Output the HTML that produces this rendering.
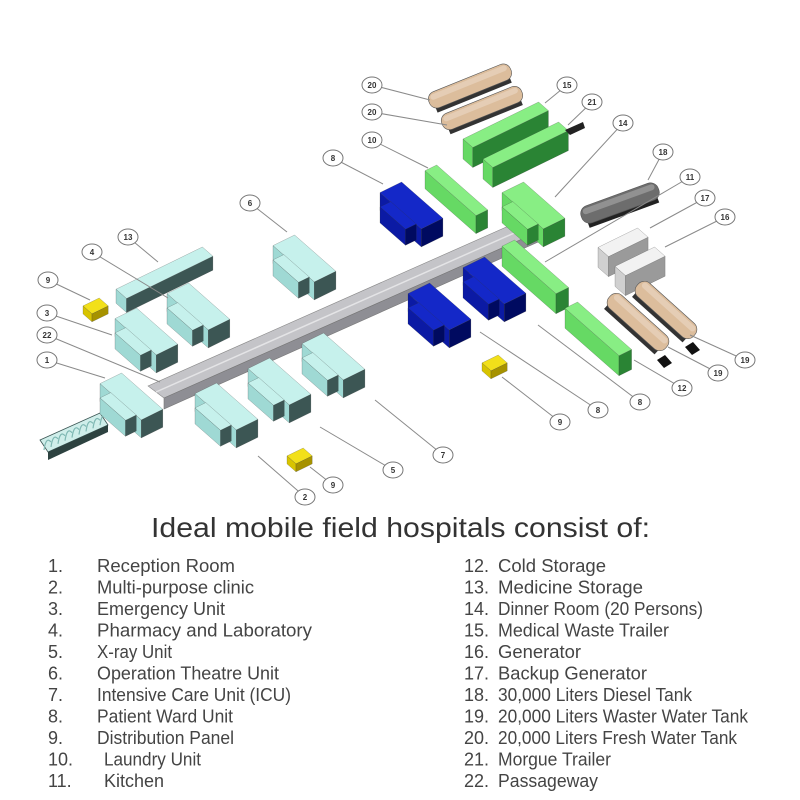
<!DOCTYPE html>
<html><head><meta charset="utf-8"><style>
html,body{margin:0;padding:0;background:#fff}
svg{display:block}
text{font-family:"Liberation Sans",sans-serif}
</style></head><body>
<svg id="s" width="800" height="800" viewBox="0 0 800 800" xmlns="http://www.w3.org/2000/svg">
<rect width="800" height="800" fill="#fff"/>
<g id="dg"></g>
<g id="lb"></g>
<text x="151" y="537" font-size="28" fill="#333" textLength="499" lengthAdjust="spacingAndGlyphs">Ideal mobile field hospitals consist of:</text>
<g font-size="18" fill="#444">
<text x="48" y="572">1.</text><text x="97" y="572" textLength="138" lengthAdjust="spacingAndGlyphs">Reception Room</text>
<text x="48" y="593.5">2.</text><text x="97" y="593.5" textLength="157" lengthAdjust="spacingAndGlyphs">Multi-purpose clinic</text>
<text x="48" y="615">3.</text><text x="97" y="615" textLength="128" lengthAdjust="spacingAndGlyphs">Emergency Unit</text>
<text x="48" y="636.5">4.</text><text x="97" y="636.5" textLength="215" lengthAdjust="spacingAndGlyphs">Pharmacy and Laboratory</text>
<text x="48" y="658">5.</text><text x="97" y="658" textLength="75" lengthAdjust="spacingAndGlyphs">X-ray Unit</text>
<text x="48" y="679.5">6.</text><text x="97" y="679.5" textLength="182" lengthAdjust="spacingAndGlyphs">Operation Theatre Unit</text>
<text x="48" y="701">7.</text><text x="97" y="701" textLength="194" lengthAdjust="spacingAndGlyphs">Intensive Care Unit (ICU)</text>
<text x="48" y="722.5">8.</text><text x="97" y="722.5" textLength="136" lengthAdjust="spacingAndGlyphs">Patient Ward Unit</text>
<text x="48" y="744">9.</text><text x="97" y="744" textLength="137" lengthAdjust="spacingAndGlyphs">Distribution Panel</text>
<text x="48" y="765.5">10.</text><text x="104" y="765.5" textLength="97" lengthAdjust="spacingAndGlyphs">Laundry Unit</text>
<text x="48" y="787">11.</text><text x="104" y="787" textLength="60" lengthAdjust="spacingAndGlyphs">Kitchen</text>
<text x="464" y="572">12.</text><text x="498" y="572" textLength="108" lengthAdjust="spacingAndGlyphs">Cold Storage</text>
<text x="464" y="593.5">13.</text><text x="498" y="593.5" textLength="145" lengthAdjust="spacingAndGlyphs">Medicine Storage</text>
<text x="464" y="615">14.</text><text x="498" y="615" textLength="205" lengthAdjust="spacingAndGlyphs">Dinner Room (20 Persons)</text>
<text x="464" y="636.5">15.</text><text x="498" y="636.5" textLength="171" lengthAdjust="spacingAndGlyphs">Medical Waste Trailer</text>
<text x="464" y="658">16.</text><text x="498" y="658" textLength="83" lengthAdjust="spacingAndGlyphs">Generator</text>
<text x="464" y="679.5">17.</text><text x="498" y="679.5" textLength="149" lengthAdjust="spacingAndGlyphs">Backup Generator</text>
<text x="464" y="701">18.</text><text x="498" y="701" textLength="194" lengthAdjust="spacingAndGlyphs">30,000 Liters Diesel Tank</text>
<text x="464" y="722.5">19.</text><text x="498" y="722.5" textLength="250" lengthAdjust="spacingAndGlyphs">20,000 Liters Waster Water Tank</text>
<text x="464" y="744">20.</text><text x="498" y="744" textLength="239" lengthAdjust="spacingAndGlyphs">20,000 Liters Fresh Water Tank</text>
<text x="464" y="765.5">21.</text><text x="498" y="765.5" textLength="113" lengthAdjust="spacingAndGlyphs">Morgue Trailer</text>
<text x="464" y="787">22.</text><text x="498" y="787" textLength="100" lengthAdjust="spacingAndGlyphs">Passageway</text>
</g>
</svg>
<script>
(function(){
var NS="http://www.w3.org/2000/svg";
var dg=document.getElementById("dg"), lb=document.getElementById("lb");
function el(t,a,p){var e=document.createElementNS(NS,t);for(var k in a)e.setAttribute(k,a[k]);(p||dg).appendChild(e);return e;}
var U=[0.9,-0.44],V=[0.75,0.66];
function P(u,v,z){return [u*U[0]+v*V[0],u*U[1]+v*V[1]-z];}
function box(u0,u1,v0,v1,h,c,z0){z0=z0||0;var t=z0+h;
 return [
  {p:[P(u0,v0,z0),P(u0,v1,z0),P(u0,v1,t),P(u0,v0,t)],f:c.l},
  {p:[P(u0,v1,z0),P(u1,v1,z0),P(u1,v1,t),P(u0,v1,t)],f:c.f},
  {p:[P(u0,v0,t),P(u1,v0,t),P(u1,v1,t),P(u0,v1,t)],f:c.t}];}
function place(polys,x1,y1){
 var mx=1e9,my=1e9;polys.forEach(function(q){q.p.forEach(function(pt){mx=Math.min(mx,pt[0]);my=Math.min(my,pt[1]);});});
 polys.forEach(function(q){el("polygon",{points:q.p.map(function(pt){return (pt[0]-mx+x1).toFixed(1)+","+(pt[1]-my+y1).toFixed(1);}).join(" "),fill:q.f,stroke:"#333","stroke-width":"0.4","stroke-opacity":"0.5"});});
}
var CY={t:"#c6f1ec",l:"#9fd9d4",f:"#3c5654"};
var BL={t:"#1428c8",l:"#0b1aa4",f:"#000a60"};
var GR={t:"#88ee84",l:"#66d964",f:"#2a8434"};
function building(x1,y1,c){place(box(10,34,0,55,18,c).concat(box(0,12,12,46,16,c)),x1,y1);}
function bx(x1,y1,a,b,h,c){place(box(0,a,0,b,h,c),x1,y1);}
function tank(cx,cy,len,th,ang,col,base){
 var g=el("g",{transform:"translate("+cx+","+cy+") rotate("+ang+")"});
 el("rect",{x:-len/2+4,y:th/2-3,width:len-8,height:7,fill:base},g);
 el("rect",{x:-len/2,y:-th/2,width:len,height:th,rx:th/2.2,fill:col,stroke:"#555","stroke-width":"0.6"},g);
 el("rect",{x:-len/2+3,y:-th/2+2,width:len-6,height:th/3,rx:3,fill:"#fff","fill-opacity":"0.25"},g);
}
// passageway
el("polygon",{points:"148,386 522,220 538,232 164,398",fill:"#c4c4c8",stroke:"#888","stroke-width":"0.6"});
el("polygon",{points:"164,398 538,232 538,242 164,409",fill:"#8e8e94",stroke:"#777","stroke-width":"0.6"});
el("line",{x1:156,y1:392,x2:530,y2:226,stroke:"#e4e4e6","stroke-width":"1.5"});
// tent
(function(){var g=el("g",{});
 el("polygon",{points:"40,440 100,413 108,425 48,452",fill:"#cfeeea",stroke:"#3a5553","stroke-width":"0.8"},g);
 el("polygon",{points:"48,452 108,425 108,432 48,460",fill:"#2d4240"},g);
 for(var i=0;i<9;i++){var x=44+i*7,y=438-i*3.1;el("path",{d:"M"+x+","+(y+12)+" Q"+(x+2)+","+(y-2)+" "+(x+7)+","+(y+4),fill:"none",stroke:"#7fb8b3","stroke-width":"1.2"},g);}
})();
tank(470,86,88,17,-22,"#dcbd9c","#333");
tank(482,108,86,17,-22,"#dcbd9c","#333");
bx(463,102,84,13,20,GR);
bx(483,122,84,13,20,GR);
el("polygon",{points:"565,130 583,122 585,128 570,135",fill:"#222"});
building(502,182,GR);
bx(425,165,13,68,18,GR);
building(380,182,BL);
tank(620,203,82,18,-20,"#6d6d6d","#222");
building(273,235,CY);
bx(598,228,44,14,20,{t:"#f2f2f2",l:"#d0d0d0",f:"#9a9a9a"});
bx(615,247,44,14,20,{t:"#f2f2f2",l:"#d0d0d0",f:"#9a9a9a"});
place(box(0,96,0,14,14,CY),116,247);
building(167,283,CY);
bx(502,240,14,72,20,GR);
building(463,257,BL);
tank(666,310,76,18,42,"#dcbd9c","#333");
tank(638,322,76,18,42,"#dcbd9c","#333");
el("polygon",{points:"685,347 693,342 700,350 692,355",fill:"#111"});
el("polygon",{points:"657,360 665,355 672,363 664,368",fill:"#111"});
building(408,283,BL);
building(115,308,CY);
bx(565,302,14,72,20,GR);
building(302,333,CY);
building(248,358,CY);
building(100,373,CY);
building(195,383,CY);
bx(83,298,18,12,8,{t:"#f2e01a",l:"#d8c400",f:"#a69200"});
bx(482,355,18,12,8,{t:"#f2e01a",l:"#d8c400",f:"#a69200"});
bx(287,448,18,12,8,{t:"#f2e01a",l:"#d8c400",f:"#a69200"});
var L=[["20",372,85,430,100],["20",372,112,447,125],["15",567,85,545,103],["21",592,102,568,125],["14",623,123,555,197],
["10",372,140,428,168],["8",333,158,383,184],["18",663,152,648,180],["11",690,177,545,262],["17",705,198,650,228],["16",725,217,665,247],
["6",250,203,287,232],["13",128,237,158,262],["4",92,252,168,298],["9",48,280,90,300],["3",47,313,112,335],["22",47,335,160,382],["1",47,360,105,378],
["19",745,360,690,335],["19",718,373,668,347],["12",682,388,634,360],["8",640,402,538,325],["8",598,410,480,332],["9",560,422,502,377],
["7",443,455,375,400],["5",393,470,320,427],["9",333,485,310,467],["2",305,497,258,456]];
L.forEach(function(d){el("line",{x1:d[1],y1:d[2],x2:d[3],y2:d[4],stroke:"#8a8a8a","stroke-width":"1"},lb);});
L.forEach(function(d){el("ellipse",{cx:d[1],cy:d[2],rx:10,ry:8,fill:"#fff",stroke:"#777","stroke-width":"1"},lb);
 var t=el("text",{x:d[1],y:d[2]+3,"font-size":"8","font-weight":"bold","text-anchor":"middle",fill:"#333"},lb);t.textContent=d[0];});
})();
</script>
</body></html>
